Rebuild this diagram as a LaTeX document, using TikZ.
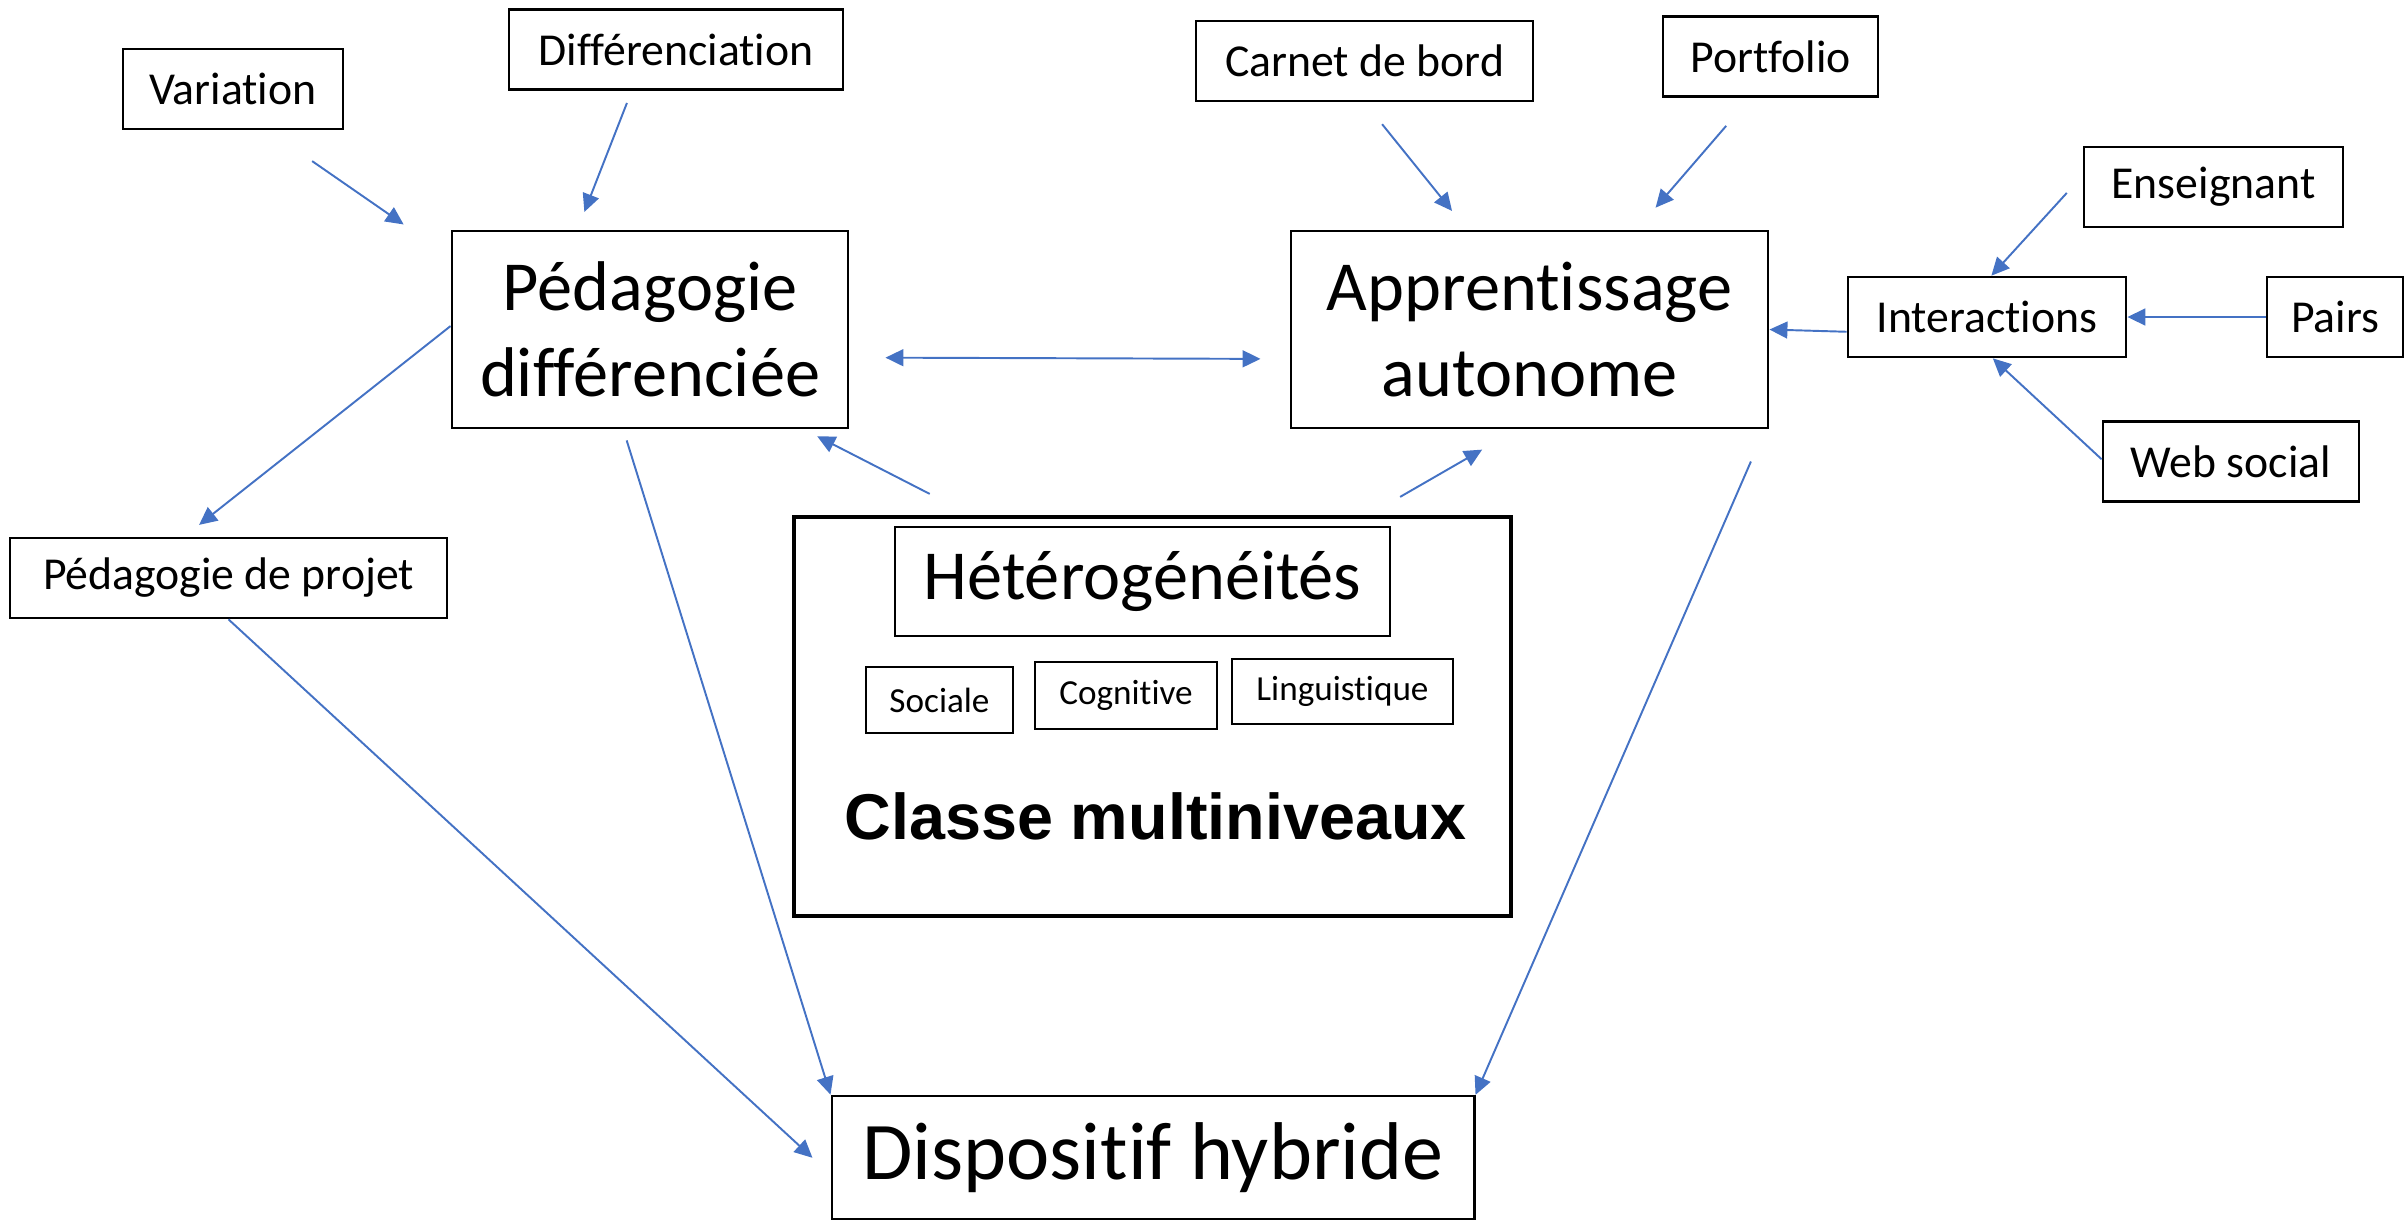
\documentclass[tikz,border=0pt]{standalone}
\usepackage{fontspec}
\setmainfont{Carlito}[Ligatures=NoCommon]
\newfontfamily\titlefont{Liberation Sans}
\usetikzlibrary{arrows.meta}
\definecolor{linkblue}{HTML}{4472C4}

\begin{document}
\begin{tikzpicture}[x=0.01cm,y=-0.01cm,
    >={Triangle[length=5.1pt,width=4.8pt]},
    box/.style={draw,line width=0.75pt,inner sep=0pt,align=center},
    small/.style={box,font=\fontsize{13}{15.6}\selectfont,minimum height=0.8cm},
    large/.style={box,font=\fontsize{20}{24.5}\selectfont},
    tiny/.style={box,line width=0.6pt,font=\fontsize{10}{12}\selectfont},
    link/.style={->,linkblue,line width=0.55pt}]
  \useasboundingbox (0,0) rectangle (2404,1220);
  \node (var) [small,minimum width=2.2cm] at (233,89) {Variation};
  \node (diff) [small,minimum width=3.34cm] at (676,49.5) {Différenciation};
  \node (carnet) [small,minimum width=3.37cm] at (1364.5,61) {Carnet de bord};
  \node (portfolio) [small,minimum width=2.15cm] at (1770.5,56.5) {Portfolio};
  \node (ens) [small,minimum width=2.59cm] at (2213.5,187) {Enseignant};
  \node (pdiff) [large,minimum width=3.96cm,minimum height=1.97cm] at (650,329.5) {Pédagogie\\différenciée};
  \node (app) [large,minimum width=4.77cm,minimum height=1.97cm] at (1529.5,329.5) {Apprentissage\\autonome};
  \node (inter) [small,minimum width=2.78cm] at (1987,317) {Interactions};
  \node (pairs) [small,minimum width=1.36cm] at (2335,317) {Pairs};
  \node (web) [small,minimum width=2.56cm] at (2231,461.5) {Web social};
  \node (projet) [small,minimum width=4.37cm] at (228.5,578) {Pédagogie de projet};
  \node (classe) [box,line width=1pt,minimum width=7.17cm,minimum height=3.99cm] at (1152.5,716.5) {};
  \node (het) [large,line width=0.6pt,minimum width=4.95cm,minimum height=1.09cm] at (1142.5,581.5) {Hétérogénéités};
  \node (sociale) [tiny,minimum width=1.47cm,minimum height=0.66cm] at (939.5,700) {Sociale};
  \node (cognitive) [tiny,minimum width=1.82cm,minimum height=0.67cm] at (1126,695.5) {Cognitive};
  \node (ling) [tiny,minimum width=2.21cm,minimum height=0.65cm] at (1342.5,691.5) {Linguistique};
  \node (multi) [inner sep=0pt,font=\titlefont\bfseries\fontsize{18.4}{22}\selectfont] at (1155.5,816.5) {Classe multiniveaux};
  \node (disp) [box,font=\fontsize{23.3}{28}\selectfont,minimum width=6.42cm,minimum height=1.23cm] at (1153,1157.5) {Dispositif hybride};

  \draw [link,shorten <=5.4mm,shorten >=5.7mm] (var.-50.5) -- (pdiff.160.7);
  \draw [link,shorten <=1.3mm,shorten >=1.9mm] (diff.-137.6) -- (pdiff.126.5);
  \draw [link,shorten <=2.8mm,shorten >=2.4mm] (carnet.-90) -- (app.122.4);
  \draw [link,shorten <=3.7mm,shorten >=2.9mm] (portfolio.-116.8) -- (app.43);
  \draw [link,shorten <=2.35mm] (ens.175.5) -- (inter.84.3);
  \draw [link] (pairs.west) -- (inter.east);
  \draw [link] (web.179.3) -- (inter.-82.9);
  \draw [link] (inter.-174.7) -- (app.east);
  \draw [link,<->,shorten <=3.6mm,shorten >=2.9mm] (pdiff.-8.2) -- (app.-173.2);
  \draw [link,shorten >=1.9mm] (pdiff.179.3) -- (projet.137.4);
  \draw [link,shorten <=4.65mm,shorten >=1.5mm] (classe.132.8) -- (pdiff.-33);
  \draw [link,shorten <=3.65mm,shorten >=4.05mm] (classe.43.9) -- (app.-97.2);
  \draw [link,shorten <=1.15mm] (pdiff.-105) -- (disp.north west);
  \draw [link,shorten >=2.45mm] (projet.south) -- (disp.-177.1);
  \draw [link,shorten <=3.5mm] (app.-23.7) -- (disp.11.5);
\end{tikzpicture}
\end{document}
